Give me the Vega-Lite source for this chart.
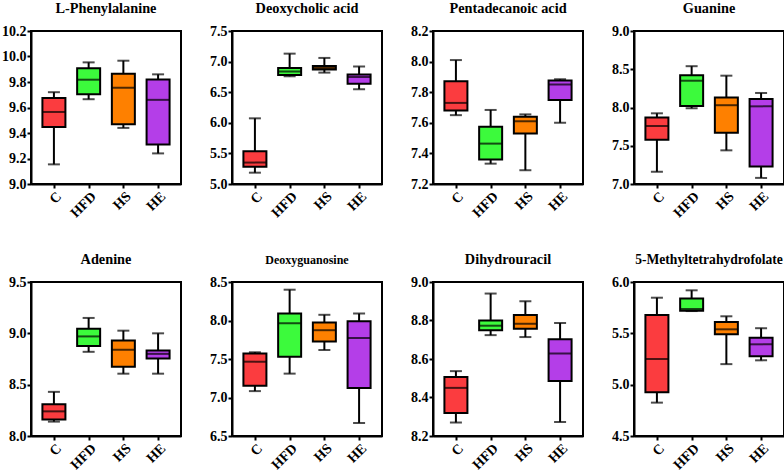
{
  "$schema": "https://vega.github.io/schema/vega-lite/v6.json",
  "padding": {"left": 0, "top": 0, "right": 0, "bottom": 0},
  "background": "white",
  "datasets": {
    "d": [
      {"m": "L-Phenylalanine", "g": "C", "min": 9.154, "q1": 9.447, "med": 9.565, "q3": 9.675, "max": 9.72},
      {"m": "L-Phenylalanine", "g": "HFD", "min": 9.665, "q1": 9.703, "med": 9.818, "q3": 9.907, "max": 9.954},
      {"m": "L-Phenylalanine", "g": "HS", "min": 9.44, "q1": 9.468, "med": 9.755, "q3": 9.865, "max": 9.967},
      {"m": "L-Phenylalanine", "g": "HE", "min": 9.24, "q1": 9.31, "med": 9.66, "q3": 9.82, "max": 9.86},
      {"m": "Deoxycholic acid", "g": "C", "min": 5.185, "q1": 5.28, "med": 5.35, "q3": 5.534, "max": 6.073},
      {"m": "Deoxycholic acid", "g": "HFD", "min": 6.76, "q1": 6.78, "med": 6.84, "q3": 6.895, "max": 7.13},
      {"m": "Deoxycholic acid", "g": "HS", "min": 6.82, "q1": 6.87, "med": 6.895, "q3": 6.93, "max": 7.06},
      {"m": "Deoxycholic acid", "g": "HE", "min": 6.55, "q1": 6.64, "med": 6.75, "q3": 6.79, "max": 6.92},
      {"m": "Pentadecanoic acid", "g": "C", "min": 7.65, "q1": 7.68, "med": 7.73, "q3": 7.871, "max": 8.01},
      {"m": "Pentadecanoic acid", "g": "HFD", "min": 7.333, "q1": 7.36, "med": 7.464, "q3": 7.575, "max": 7.684},
      {"m": "Pentadecanoic acid", "g": "HS", "min": 7.29, "q1": 7.53, "med": 7.61, "q3": 7.64, "max": 7.655},
      {"m": "Pentadecanoic acid", "g": "HE", "min": 7.6, "q1": 7.749, "med": 7.85, "q3": 7.877, "max": 7.884},
      {"m": "Guanine", "g": "C", "min": 7.16, "q1": 7.58, "med": 7.758, "q3": 7.87, "max": 7.924},
      {"m": "Guanine", "g": "HFD", "min": 7.99, "q1": 8.02, "med": 8.35, "q3": 8.42, "max": 8.54},
      {"m": "Guanine", "g": "HS", "min": 7.44, "q1": 7.67, "med": 8.03, "q3": 8.13, "max": 8.416},
      {"m": "Guanine", "g": "HE", "min": 7.08, "q1": 7.23, "med": 8.015, "q3": 8.11, "max": 8.19},
      {"m": "Adenine", "g": "C", "min": 8.14, "q1": 8.16, "med": 8.24, "q3": 8.31, "max": 8.43},
      {"m": "Adenine", "g": "HFD", "min": 8.82, "q1": 8.877, "med": 8.97, "q3": 9.045, "max": 9.15},
      {"m": "Adenine", "g": "HS", "min": 8.607, "q1": 8.675, "med": 8.84, "q3": 8.93, "max": 9.026},
      {"m": "Adenine", "g": "HE", "min": 8.607, "q1": 8.756, "med": 8.8, "q3": 8.834, "max": 9.0},
      {"m": "Deoxyguanosine", "g": "C", "min": 7.083, "q1": 7.152, "med": 7.465, "q3": 7.57, "max": 7.587},
      {"m": "Deoxyguanosine", "g": "HFD", "min": 7.31, "q1": 7.53, "med": 7.965, "q3": 8.09, "max": 8.4},
      {"m": "Deoxyguanosine", "g": "HS", "min": 7.617, "q1": 7.726, "med": 7.874, "q3": 7.974, "max": 8.074},
      {"m": "Deoxyguanosine", "g": "HE", "min": 6.67, "q1": 7.122, "med": 7.774, "q3": 7.99, "max": 8.09},
      {"m": "Dihydrouracil", "g": "C", "min": 8.27, "q1": 8.32, "med": 8.45, "q3": 8.506, "max": 8.537},
      {"m": "Dihydrouracil", "g": "HFD", "min": 8.724, "q1": 8.75, "med": 8.773, "q3": 8.8, "max": 8.94},
      {"m": "Dihydrouracil", "g": "HS", "min": 8.714, "q1": 8.757, "med": 8.783, "q3": 8.828, "max": 8.9},
      {"m": "Dihydrouracil", "g": "HE", "min": 8.273, "q1": 8.486, "med": 8.629, "q3": 8.703, "max": 8.787},
      {"m": "5-Methyltetrahydrofolate", "g": "C", "min": 4.825, "q1": 4.925, "med": 5.25, "q3": 5.679, "max": 5.847},
      {"m": "5-Methyltetrahydrofolate", "g": "HFD", "min": 5.717, "q1": 5.72, "med": 5.737, "q3": 5.84, "max": 5.919},
      {"m": "5-Methyltetrahydrofolate", "g": "HS", "min": 5.2, "q1": 5.49, "med": 5.539, "q3": 5.61, "max": 5.666},
      {"m": "5-Methyltetrahydrofolate", "g": "HE", "min": 5.237, "q1": 5.276, "med": 5.393, "q3": 5.458, "max": 5.55}
    ]
  },
  "config": {
    "font": "Liberation Serif",
    "view": {"stroke": "black", "strokeWidth": 2},
    "axis": {"labelFont": "Liberation Serif", "labelFontWeight": "bold", "labelFontSize": 14, "labelColor": "black", "domainColor": "black", "domainWidth": 2, "tickColor": "black", "tickWidth": 2, "tickSize": 4, "grid": false, "labelPadding": 1, "labelOverlap": false, "tickCount": 20},
    "title": {"font": "Liberation Serif", "fontWeight": "bold", "fontSize": 14.3, "color": "black", "offset": 8}
  },
  "vconcat": [
    {
      "bounds": "flush",
      "spacing": 51,
      "hconcat": [
        {
          "title": "L-Phenylalanine", "width": 150, "height": 153,
          "data": {"name": "d"},
          "transform": [{"filter": "datum.m === 'L-Phenylalanine'"}],
          "encoding": {"x": {"field": "g", "type": "nominal", "title": null, "scale": {"type": "point", "domain": ["C", "HFD", "HS", "HE"], "padding": 0.66}, "axis": {"labelAngle": -45, "title": null}}},
          "layer": [
            {"mark": {"type": "rule", "color": "black", "strokeWidth": 2}, "encoding": {"y": {"field": "min", "type": "quantitative", "title": null, "scale": {"domain": [9, 10.2], "zero": false, "nice": false}, "axis": {"values": [9, 9.2, 9.4, 9.6, 9.8, 10, 10.2], "tickCount": 20, "format": ".1f", "title": null}}, "y2": {"field": "max"}}},
            {"mark": {"type": "tick", "color": "black", "thickness": 2, "size": 12}, "encoding": {"y": {"field": "min", "type": "quantitative", "title": null}}},
            {"mark": {"type": "tick", "color": "black", "thickness": 2, "size": 12}, "encoding": {"y": {"field": "max", "type": "quantitative", "title": null}}},
            {"mark": {"type": "bar", "size": 23, "stroke": "black", "strokeWidth": 2, "opacity": 1}, "encoding": {"y": {"field": "q1", "type": "quantitative", "title": null}, "y2": {"field": "q3"}, "color": {"field": "g", "type": "nominal", "scale": {"domain": ["C", "HFD", "HS", "HE"], "range": ["#fb3c3f", "#3cfa3c", "#fe8000", "#b43ee8"]}, "legend": null}}},
            {"mark": {"type": "tick", "color": "black", "thickness": 2, "size": 23}, "encoding": {"y": {"field": "med", "type": "quantitative", "title": null}}}
          ]
        },
        {
          "title": "Deoxycholic acid", "width": 150, "height": 153,
          "data": {"name": "d"},
          "transform": [{"filter": "datum.m === 'Deoxycholic acid'"}],
          "encoding": {"x": {"field": "g", "type": "nominal", "title": null, "scale": {"type": "point", "domain": ["C", "HFD", "HS", "HE"], "padding": 0.66}, "axis": {"labelAngle": -45, "title": null}}},
          "layer": [
            {"mark": {"type": "rule", "color": "black", "strokeWidth": 2}, "encoding": {"y": {"field": "min", "type": "quantitative", "title": null, "scale": {"domain": [5, 7.5], "zero": false, "nice": false}, "axis": {"values": [5, 5.5, 6, 6.5, 7, 7.5], "tickCount": 20, "format": ".1f", "title": null}}, "y2": {"field": "max"}}},
            {"mark": {"type": "tick", "color": "black", "thickness": 2, "size": 12}, "encoding": {"y": {"field": "min", "type": "quantitative", "title": null}}},
            {"mark": {"type": "tick", "color": "black", "thickness": 2, "size": 12}, "encoding": {"y": {"field": "max", "type": "quantitative", "title": null}}},
            {"mark": {"type": "bar", "size": 23, "stroke": "black", "strokeWidth": 2, "opacity": 1}, "encoding": {"y": {"field": "q1", "type": "quantitative", "title": null}, "y2": {"field": "q3"}, "color": {"field": "g", "type": "nominal", "scale": {"domain": ["C", "HFD", "HS", "HE"], "range": ["#fb3c3f", "#3cfa3c", "#fe8000", "#b43ee8"]}, "legend": null}}},
            {"mark": {"type": "tick", "color": "black", "thickness": 2, "size": 23}, "encoding": {"y": {"field": "med", "type": "quantitative", "title": null}}}
          ]
        },
        {
          "title": "Pentadecanoic acid", "width": 150, "height": 153,
          "data": {"name": "d"},
          "transform": [{"filter": "datum.m === 'Pentadecanoic acid'"}],
          "encoding": {"x": {"field": "g", "type": "nominal", "title": null, "scale": {"type": "point", "domain": ["C", "HFD", "HS", "HE"], "padding": 0.66}, "axis": {"labelAngle": -45, "title": null}}},
          "layer": [
            {"mark": {"type": "rule", "color": "black", "strokeWidth": 2}, "encoding": {"y": {"field": "min", "type": "quantitative", "title": null, "scale": {"domain": [7.2, 8.2], "zero": false, "nice": false}, "axis": {"values": [7.2, 7.4, 7.6, 7.8, 8.0, 8.2], "tickCount": 20, "format": ".1f", "title": null}}, "y2": {"field": "max"}}},
            {"mark": {"type": "tick", "color": "black", "thickness": 2, "size": 12}, "encoding": {"y": {"field": "min", "type": "quantitative", "title": null}}},
            {"mark": {"type": "tick", "color": "black", "thickness": 2, "size": 12}, "encoding": {"y": {"field": "max", "type": "quantitative", "title": null}}},
            {"mark": {"type": "bar", "size": 23, "stroke": "black", "strokeWidth": 2, "opacity": 1}, "encoding": {"y": {"field": "q1", "type": "quantitative", "title": null}, "y2": {"field": "q3"}, "color": {"field": "g", "type": "nominal", "scale": {"domain": ["C", "HFD", "HS", "HE"], "range": ["#fb3c3f", "#3cfa3c", "#fe8000", "#b43ee8"]}, "legend": null}}},
            {"mark": {"type": "tick", "color": "black", "thickness": 2, "size": 23}, "encoding": {"y": {"field": "med", "type": "quantitative", "title": null}}}
          ]
        },
        {
          "title": "Guanine", "width": 150, "height": 153,
          "data": {"name": "d"},
          "transform": [{"filter": "datum.m === 'Guanine'"}],
          "encoding": {"x": {"field": "g", "type": "nominal", "title": null, "scale": {"type": "point", "domain": ["C", "HFD", "HS", "HE"], "padding": 0.66}, "axis": {"labelAngle": -45, "title": null}}},
          "layer": [
            {"mark": {"type": "rule", "color": "black", "strokeWidth": 2}, "encoding": {"y": {"field": "min", "type": "quantitative", "title": null, "scale": {"domain": [7, 9], "zero": false, "nice": false}, "axis": {"values": [7, 7.5, 8, 8.5, 9], "tickCount": 20, "format": ".1f", "title": null}}, "y2": {"field": "max"}}},
            {"mark": {"type": "tick", "color": "black", "thickness": 2, "size": 12}, "encoding": {"y": {"field": "min", "type": "quantitative", "title": null}}},
            {"mark": {"type": "tick", "color": "black", "thickness": 2, "size": 12}, "encoding": {"y": {"field": "max", "type": "quantitative", "title": null}}},
            {"mark": {"type": "bar", "size": 23, "stroke": "black", "strokeWidth": 2, "opacity": 1}, "encoding": {"y": {"field": "q1", "type": "quantitative", "title": null}, "y2": {"field": "q3"}, "color": {"field": "g", "type": "nominal", "scale": {"domain": ["C", "HFD", "HS", "HE"], "range": ["#fb3c3f", "#3cfa3c", "#fe8000", "#b43ee8"]}, "legend": null}}},
            {"mark": {"type": "tick", "color": "black", "thickness": 2, "size": 23}, "encoding": {"y": {"field": "med", "type": "quantitative", "title": null}}}
          ]
        }
      ]
    },
    {
      "bounds": "flush",
      "spacing": 51,
      "hconcat": [
        {
          "title": "Adenine", "width": 150, "height": 154,
          "data": {"name": "d"},
          "transform": [{"filter": "datum.m === 'Adenine'"}],
          "encoding": {"x": {"field": "g", "type": "nominal", "title": null, "scale": {"type": "point", "domain": ["C", "HFD", "HS", "HE"], "padding": 0.66}, "axis": {"labelAngle": -45, "title": null}}},
          "layer": [
            {"mark": {"type": "rule", "color": "black", "strokeWidth": 2}, "encoding": {"y": {"field": "min", "type": "quantitative", "title": null, "scale": {"domain": [8, 9.5], "zero": false, "nice": false}, "axis": {"values": [8, 8.5, 9, 9.5], "tickCount": 20, "format": ".1f", "title": null}}, "y2": {"field": "max"}}},
            {"mark": {"type": "tick", "color": "black", "thickness": 2, "size": 12}, "encoding": {"y": {"field": "min", "type": "quantitative", "title": null}}},
            {"mark": {"type": "tick", "color": "black", "thickness": 2, "size": 12}, "encoding": {"y": {"field": "max", "type": "quantitative", "title": null}}},
            {"mark": {"type": "bar", "size": 23, "stroke": "black", "strokeWidth": 2, "opacity": 1}, "encoding": {"y": {"field": "q1", "type": "quantitative", "title": null}, "y2": {"field": "q3"}, "color": {"field": "g", "type": "nominal", "scale": {"domain": ["C", "HFD", "HS", "HE"], "range": ["#fb3c3f", "#3cfa3c", "#fe8000", "#b43ee8"]}, "legend": null}}},
            {"mark": {"type": "tick", "color": "black", "thickness": 2, "size": 23}, "encoding": {"y": {"field": "med", "type": "quantitative", "title": null}}}
          ]
        },
        {
          "title": {"text": "Deoxyguanosine", "fontSize": 12}, "width": 150, "height": 154,
          "data": {"name": "d"},
          "transform": [{"filter": "datum.m === 'Deoxyguanosine'"}],
          "encoding": {"x": {"field": "g", "type": "nominal", "title": null, "scale": {"type": "point", "domain": ["C", "HFD", "HS", "HE"], "padding": 0.66}, "axis": {"labelAngle": -45, "title": null}}},
          "layer": [
            {"mark": {"type": "rule", "color": "black", "strokeWidth": 2}, "encoding": {"y": {"field": "min", "type": "quantitative", "title": null, "scale": {"domain": [6.5, 8.5], "zero": false, "nice": false}, "axis": {"values": [6.5, 7, 7.5, 8, 8.5], "tickCount": 20, "format": ".1f", "title": null}}, "y2": {"field": "max"}}},
            {"mark": {"type": "tick", "color": "black", "thickness": 2, "size": 12}, "encoding": {"y": {"field": "min", "type": "quantitative", "title": null}}},
            {"mark": {"type": "tick", "color": "black", "thickness": 2, "size": 12}, "encoding": {"y": {"field": "max", "type": "quantitative", "title": null}}},
            {"mark": {"type": "bar", "size": 23, "stroke": "black", "strokeWidth": 2, "opacity": 1}, "encoding": {"y": {"field": "q1", "type": "quantitative", "title": null}, "y2": {"field": "q3"}, "color": {"field": "g", "type": "nominal", "scale": {"domain": ["C", "HFD", "HS", "HE"], "range": ["#fb3c3f", "#3cfa3c", "#fe8000", "#b43ee8"]}, "legend": null}}},
            {"mark": {"type": "tick", "color": "black", "thickness": 2, "size": 23}, "encoding": {"y": {"field": "med", "type": "quantitative", "title": null}}}
          ]
        },
        {
          "title": "Dihydrouracil", "width": 150, "height": 154,
          "data": {"name": "d"},
          "transform": [{"filter": "datum.m === 'Dihydrouracil'"}],
          "encoding": {"x": {"field": "g", "type": "nominal", "title": null, "scale": {"type": "point", "domain": ["C", "HFD", "HS", "HE"], "padding": 0.66}, "axis": {"labelAngle": -45, "title": null}}},
          "layer": [
            {"mark": {"type": "rule", "color": "black", "strokeWidth": 2}, "encoding": {"y": {"field": "min", "type": "quantitative", "title": null, "scale": {"domain": [8.2, 9.0], "zero": false, "nice": false}, "axis": {"values": [8.2, 8.4, 8.6, 8.8, 9.0], "tickCount": 20, "format": ".1f", "title": null}}, "y2": {"field": "max"}}},
            {"mark": {"type": "tick", "color": "black", "thickness": 2, "size": 12}, "encoding": {"y": {"field": "min", "type": "quantitative", "title": null}}},
            {"mark": {"type": "tick", "color": "black", "thickness": 2, "size": 12}, "encoding": {"y": {"field": "max", "type": "quantitative", "title": null}}},
            {"mark": {"type": "bar", "size": 23, "stroke": "black", "strokeWidth": 2, "opacity": 1}, "encoding": {"y": {"field": "q1", "type": "quantitative", "title": null}, "y2": {"field": "q3"}, "color": {"field": "g", "type": "nominal", "scale": {"domain": ["C", "HFD", "HS", "HE"], "range": ["#fb3c3f", "#3cfa3c", "#fe8000", "#b43ee8"]}, "legend": null}}},
            {"mark": {"type": "tick", "color": "black", "thickness": 2, "size": 23}, "encoding": {"y": {"field": "med", "type": "quantitative", "title": null}}}
          ]
        },
        {
          "title": {"text": "5-Methyltetrahydrofolate", "fontSize": 13.6}, "width": 150, "height": 154,
          "data": {"name": "d"},
          "transform": [{"filter": "datum.m === '5-Methyltetrahydrofolate'"}],
          "encoding": {"x": {"field": "g", "type": "nominal", "title": null, "scale": {"type": "point", "domain": ["C", "HFD", "HS", "HE"], "padding": 0.66}, "axis": {"labelAngle": -45, "title": null}}},
          "layer": [
            {"mark": {"type": "rule", "color": "black", "strokeWidth": 2}, "encoding": {"y": {"field": "min", "type": "quantitative", "title": null, "scale": {"domain": [4.5, 6.0], "zero": false, "nice": false}, "axis": {"values": [4.5, 5, 5.5, 6], "tickCount": 20, "format": ".1f", "title": null}}, "y2": {"field": "max"}}},
            {"mark": {"type": "tick", "color": "black", "thickness": 2, "size": 12}, "encoding": {"y": {"field": "min", "type": "quantitative", "title": null}}},
            {"mark": {"type": "tick", "color": "black", "thickness": 2, "size": 12}, "encoding": {"y": {"field": "max", "type": "quantitative", "title": null}}},
            {"mark": {"type": "bar", "size": 23, "stroke": "black", "strokeWidth": 2, "opacity": 1}, "encoding": {"y": {"field": "q1", "type": "quantitative", "title": null}, "y2": {"field": "q3"}, "color": {"field": "g", "type": "nominal", "scale": {"domain": ["C", "HFD", "HS", "HE"], "range": ["#fb3c3f", "#3cfa3c", "#fe8000", "#b43ee8"]}, "legend": null}}},
            {"mark": {"type": "tick", "color": "black", "thickness": 2, "size": 23}, "encoding": {"y": {"field": "med", "type": "quantitative", "title": null}}}
          ]
        }
      ]
    }
  ],
  "spacing": 30
}
